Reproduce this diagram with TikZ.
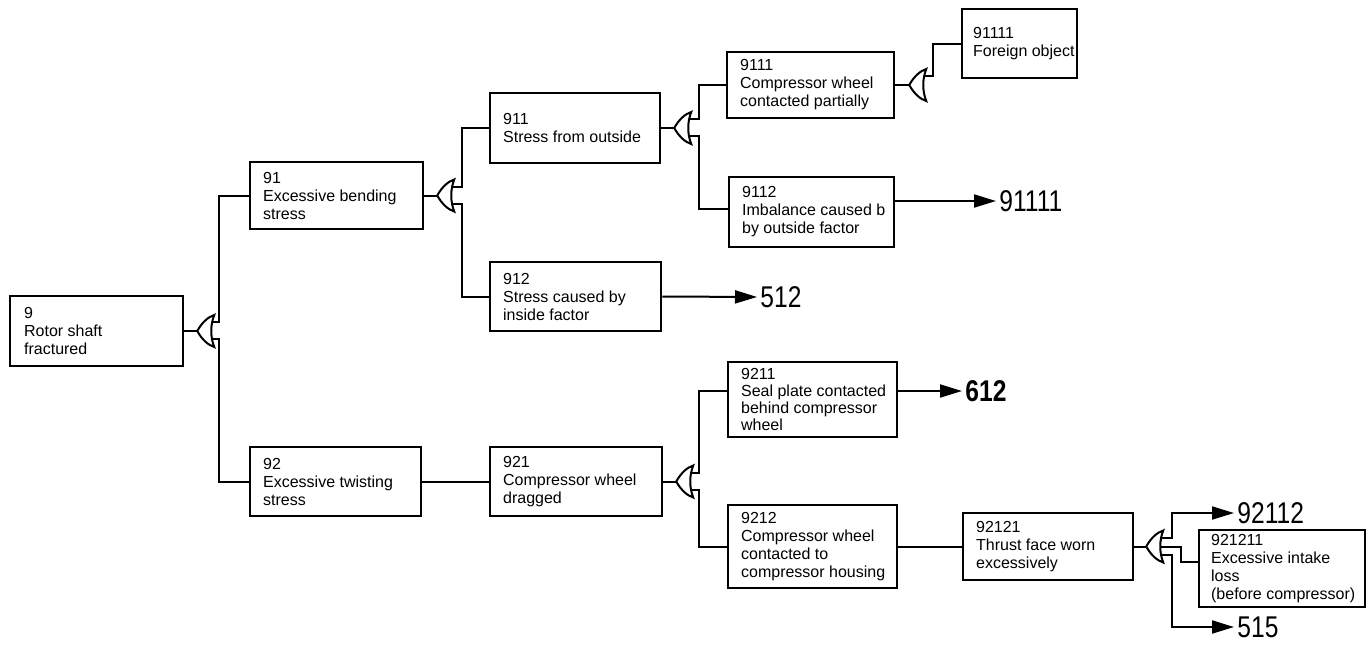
\documentclass[tikz,border=0pt]{standalone}
\usepackage{fontspec}
\setmainfont{Liberation Sans}
\newfontfamily\tagfont[FakeStretch=0.82]{Liberation Sans}
\usetikzlibrary{arrows.meta,fit}

\begin{document}
\begin{tikzpicture}[x=0.5pt,y=-0.5pt,
  box/.style={draw, line width=1.25pt, inner sep=0pt, rectangle},
  txt/.style={anchor=west, align=left, inner sep=0pt, font=\fontsize{8}{9}\selectfont},
  wire/.style={line width=1pt},
  arrow/.style={wire, shorten >=1.5pt, -{Triangle[length=11pt,width=6.5pt]}},
  tag/.style={anchor=west, inner sep=0pt, font=\tagfont\fontsize{15}{15}\selectfont},
  gatebody/.style={line width=1pt},
  orgate/.pic={
    \draw[gatebody] (0,0) .. controls (5,-9) and (11,-14) .. (17,-16)
      .. controls (13,-6) and (13,6) .. (17,16)
      .. controls (11,14) and (5,9) .. (0,0) -- cycle;
    \coordinate (-in) at (0,0);
    \coordinate (-o1) at (15,-9);
    \coordinate (-om) at (14,0);
    \coordinate (-o2) at (15,8);
  }]
\useasboundingbox (0,0) rectangle (1367,644);

% event boxes
\node[box, fit={(10,296) (183,366)}] (n9) {};
\node[txt] at ([xshift=7.5pt]n9.west) {9\\Rotor shaft\\fractured};
\node[box, fit={(250,162) (423,229)}] (n91) {};
\node[txt] at ([xshift=7pt]n91.west) {91\\Excessive bending\\stress};
\node[box, fit={(250,447) (421,516)}] (n92) {};
\node[txt] at ([xshift=7pt]n92.west) {92\\Excessive twisting\\stress};
\node[box, fit={(490,93) (660,163)}] (n911) {};
\node[txt] at ([xshift=7pt]n911.west) {911\\Stress from outside};
\node[box, fit={(490,262) (661,331)}] (n912) {};
\node[txt] at ([xshift=7pt]n912.west) {912\\Stress caused by\\inside factor};
\node[box, fit={(490,447) (662,516)}] (n921) {};
\node[txt] at ([xshift=7pt]n921.west) {921\\Compressor wheel\\dragged};
\node[box, fit={(727,52) (894,118)}] (n9111) {};
\node[txt] at ([xshift=7pt]n9111.west) {9111\\Compressor wheel\\contacted partially};
\node[box, fit={(729,177) (894,247)}] (n9112) {};
\node[txt] at ([xshift=7pt]n9112.west) {9112\\Imbalance caused b\\by outside factor};
\node[box, fit={(962,9) (1077,78)}] (n91111) {};
\node[txt] at ([xshift=6pt]n91111.west) {91111\\Foreign object};
\node[box, fit={(728,362) (897,437)}] (n9211) {};
\node[txt, font=\fontsize{8}{8.6}\selectfont] at ([xshift=7pt]n9211.west) {9211\\Seal plate contacted\\behind compressor\\wheel};
\node[box, fit={(728,505) (897,588)}] (n9212) {};
\node[txt] at ([xshift=7pt]n9212.west) {9212\\Compressor wheel\\contacted to\\compressor housing};
\node[box, fit={(963,513) (1133,580)}] (n92121) {};
\node[txt] at ([xshift=7pt]n92121.west) {92121\\Thrust face worn\\excessively};
\node[box, fit={(1199,530) (1365,607)}] (n921211) {};
\node[txt] at ([xshift=6.5pt]n921211.west) {921211\\Excessive intake\\loss\\(before compressor)};

% cross-reference tags
\node[tag] (l91111) at (999,201) {91111};
\node[tag] (l512) at (760,297) {512};
\node[tag, font=\tagfont\bfseries\fontsize{15}{15}\selectfont] (l612) at (965,391) {612};
\node[tag] (l92112) at (1237,513) {92112};
\node[tag] (l515) at (1237,627) {515};

% OR gates
\pic (g9) at ([xshift=6.5pt]n9.east) {orgate};
\pic (g91) at ([xshift=6.5pt]n91.east) {orgate};
\pic (g911) at ([xshift=6.5pt]n911.east) {orgate};
\pic (g9111) at ([xshift=7pt]n9111.east) {orgate};
\pic (g921) at ([xshift=6.5pt]n921.east) {orgate};
\pic (g92121) at ([xshift=6pt]n92121.east) {orgate};

% connectors
\draw[wire] (n9.east) -- (g9-in);
\draw[wire] (g9-o1) -| ([xshift=-15pt]n91.west) -- (n91.west);
\draw[wire] (g9-o2) -| ([xshift=-15pt]n92.west) -- (n92.west);

\draw[wire] (n91.east) -- (g91-in);
\draw[wire] (g91-o1) -| ([xshift=-13.5pt]n911.west) -- (n911.west);
\draw[wire] (g91-o2) -| ([xshift=-13.5pt]n912.west) -- (n912.west);

\draw[wire] (n911.east) -- (g911-in);
\draw[wire] (g911-o1) -| ([xshift=-13.5pt]n9111.west) -- (n9111.west);
\draw[wire] (g911-o2) -| ([xshift=-14.5pt,yshift=1.5pt]n9112.west) -- ([yshift=1.5pt]n9112.west);

\draw[wire] (n9111.east) -- (g9111-in);
\draw[wire] (g9111-o1) -| ([xshift=-14pt]n91111.west) -- (n91111.west);

\draw[arrow] ([yshift=5.5pt]n9112.east) -- (l91111.west);
\draw[arrow] (n912.east) -- (l512.west);

\draw[wire] (n92.east) -- (n921.west);
\draw[wire] (n921.east) -- (g921-in);
\draw[wire] (g921-o1) -| ([xshift=-14pt,yshift=4.25pt]n9211.west) -- ([yshift=4.25pt]n9211.west);
\draw[wire] (g921-o2) -| ([xshift=-14pt]n9212.west) -- (n9212.west);
\draw[arrow] ([yshift=4.25pt]n9211.east) -- (l612.west);

\draw[wire] (n9212.east) -- (n92121.west);
\draw[wire] (n92121.east) -- (g92121-in);
\draw[arrow] (g92121-o1) -| ([xshift=-32.5pt]l92112.west) -- (l92112.west);
\draw[wire] (g92121-om) -| ([xshift=-8.5pt,yshift=3.25pt]n921211.west) -- ([yshift=3.25pt]n921211.west);
\draw[arrow] (g92121-o2) -| ([xshift=-32.5pt]l515.west) -- (l515.west);
\end{tikzpicture}
\end{document}
